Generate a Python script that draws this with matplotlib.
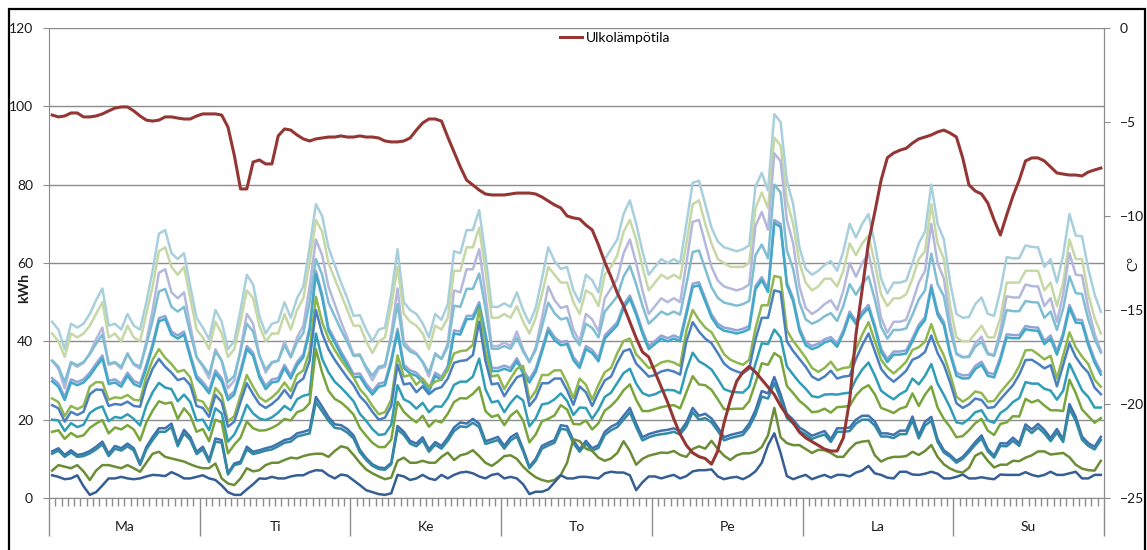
import matplotlib
matplotlib.use("Agg")
import matplotlib.pyplot as plt
from matplotlib.patches import Rectangle
import numpy as np

# week days (finnish) and hourly readings, 24 values per day
days = ["Ma", "Ti", "Ke", "To", "Pe", "La", "Su"]

# kWh series, top to bottom
s1 = [45, 43, 38, 44.5, 43.5, 44.5, 47, 50.5, 53.5, 44, 44.5, 43, 47, 44, 43, 50, 58, 67.5, 68.4, 62.5, 61, 62.5, 54, 46,
      43.5, 40.5, 48, 45, 38, 40, 48, 57, 54.5, 46.5, 42, 44.5, 45, 50, 46, 51, 54, 64, 75, 72, 64, 59.5, 55, 51,
      46.5, 46.7, 43, 40, 43, 43.5, 52, 63.5, 50, 48, 47, 44.6, 41, 47, 45.5, 49.5, 63, 62.5, 68.4, 68.4, 73.5, 62, 48.8, 48.8,
      49.7, 48.8, 52.5, 48, 44.6, 48.5, 56, 64, 60.5, 58.5, 59, 53, 50, 57, 55.6, 52.5, 61, 63.5, 66, 72.5, 76, 70, 63, 57,
      59, 61, 60, 61, 60, 70, 80.5, 81, 75, 69, 65.5, 64, 63.5, 63, 63.5, 64.5, 79.5, 83, 78.5, 98, 96, 81, 75, 64,
      58.5, 57, 58, 59.5, 60.5, 58, 63, 70, 66.5, 70, 72.5, 65, 56, 52.2, 55, 55, 55.5, 60, 65, 68, 80, 70, 66, 55,
      47, 46, 46.2, 49.5, 51.2, 47, 46.5, 53, 61.5, 61.2, 61.2, 64.5, 64.1, 64, 59, 61, 55, 62, 72.5, 67, 66.8, 58.5, 52, 47.5]
s2 = [42, 40, 36, 42, 41, 42, 44, 47, 50, 41, 42, 40, 44, 41, 40, 47, 54, 63, 64, 59, 57, 59, 51, 43,
      41, 38, 45, 42, 36, 38, 45, 53, 51, 44, 40, 42, 42, 47, 43, 48, 51, 60, 71, 68, 60, 56, 52, 48,
      44, 44, 40, 37, 40, 41, 49, 59, 47, 45, 44, 42, 38, 44, 43, 46, 58, 58, 64, 64, 69, 58, 46, 46,
      47, 46, 49, 45, 42, 46, 52, 59, 57, 55, 55, 50, 47, 53, 52, 49, 57, 59, 62, 68, 71, 66, 59, 53,
      55, 57, 56, 57, 56, 65, 75, 76, 70, 65, 61, 60, 59, 59, 59, 60, 74, 78, 74, 92, 90, 76, 70, 60,
      55, 53, 54, 56, 56, 54, 58, 65, 62, 65, 67, 60, 52, 49, 51, 51, 52, 56, 61, 63, 75, 65, 61, 49,
      41, 40, 40, 42, 44, 41, 41, 46, 55, 55, 55, 58, 58, 58, 53, 55, 49, 55, 66, 61, 61, 52, 46, 42]
s3 = [35, 33, 28, 34.5, 33.5, 34.5, 37, 40.5, 43.5, 34, 34.5, 33, 37, 34, 33, 40, 48, 57.5, 58.4, 52.5, 51, 52.5, 44, 36,
      33.5, 30.5, 38, 35, 28, 30, 38, 47, 44.5, 36.5, 32, 34.5, 35, 40, 36, 41, 44, 54, 66, 62, 54, 49.5, 45, 41,
      36.5, 36.7, 33, 30, 33, 33.5, 42, 53.5, 40, 38, 37, 34.6, 31, 37, 35.5, 39.5, 53, 52.5, 58.4, 58.4, 63.5, 52, 38.8, 38.8,
      39.7, 38.8, 42.5, 38, 34.6, 38.5, 46, 54, 50.5, 48.5, 49, 43, 40, 47, 45.6, 42.5, 51, 53.5, 56, 62.5, 66, 60, 53, 47,
      49, 51, 50, 51, 50, 60, 70.5, 71, 65, 59, 55.5, 54, 53.5, 53, 53.5, 54.5, 69.5, 73, 68.5, 88, 86, 71, 65, 54,
      48.5, 47, 48, 49.5, 50.5, 48, 53, 60, 56.5, 60, 62.5, 55, 46, 42.2, 45, 45, 45.5, 50, 55, 58, 70, 60, 56, 45,
      37, 36, 36.2, 39.5, 41.2, 37, 36.5, 43, 51.5, 51.2, 51.2, 54.5, 54.1, 54, 49, 51, 45, 52, 62.5, 57, 56.8, 48.5, 42, 37.5]
s4 = [35.1, 33.5, 29.6, 34.7, 33.9, 34.7, 36.7, 39.4, 41.7, 34.3, 34.7, 33.5, 36.7, 34.3, 33.5, 39, 45.2, 52.7, 53.4, 48.8, 47.6, 48.8, 42.1, 35.9,
      33.9, 31.6, 37.4, 35.1, 29.6, 31.2, 37.4, 44.5, 42.5, 36.3, 32.8, 34.7, 35.1, 39, 35.9, 39.8, 42.1, 49.9, 61, 57, 49.9, 46.4, 42.9, 39.8,
      36.3, 36.4, 33.5, 31.2, 33.5, 33.9, 40.6, 49.5, 39, 37.4, 36.7, 34.8, 32, 36.7, 35.5, 38.6, 49.1, 48.8, 53.4, 53.4, 57.3, 48.4, 38.1, 38.1,
      38.8, 38.1, 41, 37.4, 34.8, 37.8, 43.7, 49.9, 47.2, 45.6, 46, 41.3, 39, 44.5, 43.4, 41, 47.6, 49.5, 51.5, 56.6, 59.3, 54.6, 49.1, 44.5,
      46, 47.6, 46.8, 47.6, 46.8, 54.6, 62.8, 63.2, 58.5, 53.8, 51.1, 49.9, 49.5, 49.1, 49.5, 50.3, 62, 64.7, 61.2, 80, 78, 63.2, 58.5, 49.9,
      45.6, 44.5, 45.2, 46.4, 47.2, 45.2, 49.1, 54.6, 51.9, 54.6, 56.6, 50.7, 43.7, 40.7, 42.9, 42.9, 43.3, 46.8, 50.7, 53, 62.4, 54.6, 51.5, 42.9,
      36.7, 35.9, 36, 38.6, 39.9, 36.7, 36.3, 41.3, 48, 47.7, 47.7, 50.3, 50, 49.9, 46, 47.6, 42.9, 48.4, 56.6, 52.3, 52.1, 45.6, 40.6, 37.1]
s5 = [30.6, 29.2, 25.8, 30.3, 29.6, 30.3, 32, 34.3, 36.4, 29.9, 30.3, 29.2, 32, 29.9, 29.2, 34, 39.4, 45.9, 46.5, 42.5, 41.5, 42.5, 36.7, 31.3,
      29.6, 27.5, 32.6, 30.6, 25.8, 27.2, 32.6, 38.8, 37.1, 31.6, 28.6, 30.3, 30.6, 34, 31.3, 34.7, 36.7, 43.5, 58, 52, 43.5, 40.5, 37.4, 34.7,
      31.6, 31.8, 29.2, 27.2, 29.2, 29.6, 35.4, 43.2, 34, 32.6, 32, 30.3, 27.9, 32, 30.9, 33.7, 42.8, 42.5, 46.5, 46.5, 50, 42.2, 33.2, 33.2,
      33.8, 33.2, 35.7, 32.6, 30.3, 33, 38.1, 43.5, 41.1, 39.8, 40.1, 36, 34, 38.8, 37.8, 35.7, 41.5, 43.2, 44.9, 49.3, 51.7, 47.6, 42.8, 38.8,
      40.1, 41.5, 40.8, 41.5, 40.8, 47.6, 54.7, 55.1, 51, 46.9, 44.5, 43.5, 43.2, 42.8, 43.2, 43.9, 54.1, 56.4, 53.4, 71, 70, 55.1, 51, 43.5,
      39.8, 38.8, 39.4, 40.5, 41.1, 39.4, 42.8, 47.6, 45.2, 47.6, 49.3, 44.2, 38.1, 35.5, 37.4, 37.4, 37.7, 40.8, 44.2, 46.2, 54.4, 47.6, 44.9, 37.4,
      32, 31.3, 31.4, 33.7, 34.8, 32, 31.6, 36, 41.8, 41.6, 41.6, 43.9, 43.6, 43.5, 40.1, 41.5, 37.4, 42.2, 49.3, 45.6, 45.4, 39.8, 35.4, 32.3]
s6 = [29.8, 28.4, 25.0, 29.5, 28.8, 29.5, 31.2, 33.5, 35.6, 29.1, 29.5, 28.4, 31.2, 29.1, 28.4, 33.2, 38.6, 45.1, 45.7, 41.7, 40.7, 41.7, 35.9, 30.5,
      28.8, 26.7, 31.8, 29.8, 25.0, 26.4, 31.8, 38.0, 36.3, 30.8, 27.8, 29.5, 29.8, 33.2, 30.5, 33.9, 35.9, 42.7, 57.2, 51.2, 42.7, 39.7, 36.6, 33.9,
      30.8, 31.0, 28.4, 26.4, 28.4, 28.8, 34.6, 42.4, 33.2, 31.8, 31.2, 29.5, 27.1, 31.2, 30.1, 32.9, 42.0, 41.7, 45.7, 45.7, 49.2, 41.4, 32.4, 32.4,
      33.0, 32.4, 34.9, 31.8, 29.5, 32.2, 37.3, 42.7, 40.3, 39.0, 39.3, 35.2, 33.2, 38.0, 37.0, 34.9, 40.7, 42.4, 44.1, 48.5, 50.9, 46.8, 42.0, 38.0,
      39.3, 40.7, 40.0, 40.7, 40.0, 46.8, 53.9, 54.3, 50.2, 46.1, 43.7, 42.7, 42.4, 42.0, 42.4, 43.1, 53.3, 55.6, 52.6, 70.2, 69.2, 54.3, 50.2, 42.7,
      39.0, 38.0, 38.6, 39.7, 40.3, 38.6, 42.0, 46.8, 44.4, 46.8, 48.5, 43.4, 37.3, 34.7, 36.6, 36.6, 36.9, 40.0, 43.4, 45.4, 53.6, 46.8, 44.1, 36.6,
      31.2, 30.5, 30.6, 32.9, 34.0, 31.2, 30.8, 35.2, 41.0, 40.8, 40.8, 43.1, 42.8, 42.7, 39.3, 40.7, 36.6, 41.4, 48.5, 44.8, 44.6, 39.0, 34.6, 31.5]
s7 = [25.4, 24.5, 20.9, 23.5, 22.7, 23.5, 28.4, 29.6, 29.5, 25.1, 25.7, 25.5, 26.3, 25.1, 24.9, 31.0, 35.3, 38.0, 35.8, 34.2, 32.2, 32.7, 30.8, 25.1,
      24.6, 22.1, 28.1, 26.2, 19.5, 20.9, 26.2, 31.4, 28.4, 25.7, 24.6, 25.7, 27.2, 29.5, 27.3, 31.4, 32.6, 37.5, 51.4, 44.9, 40.7, 37.8, 35.3, 33.0,
      30.8, 27.8, 26.0, 23.5, 21.4, 21.9, 25.1, 36.4, 31.0, 31.4, 28.9, 30.5, 28.4, 29.7, 30.3, 32.6, 36.9, 37.5, 37.7, 39.1, 48.2, 37.5, 31.0, 31.4,
      27.8, 30.5, 33.0, 33.7, 25.1, 27.3, 31.4, 31.4, 32.6, 32.6, 29.4, 25.5, 30.5, 28.9, 25.1, 28.9, 32.1, 33.2, 37.0, 40.1, 40.7, 36.7, 35.0, 33.2,
      33.6, 34.6, 35.0, 34.6, 33.7, 42.8, 48.0, 45.5, 43.5, 42.3, 39.6, 36.7, 35.3, 34.6, 34.0, 35.3, 43.3, 49.2, 49.2, 56.7, 56.3, 42.8, 40.1, 38.0,
      35.8, 33.2, 32.2, 33.2, 34.8, 32.6, 33.2, 33.4, 38.0, 41.7, 44.9, 40.1, 35.3, 33.2, 31.8, 33.2, 34.8, 37.8, 38.5, 39.9, 44.4, 39.6, 36.4, 31.6,
      25.9, 24.6, 25.6, 27.2, 26.8, 24.6, 24.8, 27.0, 28.9, 30.8, 33.7, 37.7, 37.8, 36.7, 35.4, 36.3, 30.5, 36.4, 42.3, 38.5, 36.1, 34.2, 30.2, 28.4]
s8 = [23.7, 22.9, 19.5, 22.0, 21.2, 22.0, 26.5, 27.7, 27.6, 23.5, 24.0, 23.8, 24.6, 23.5, 23.3, 29.0, 33.0, 35.5, 33.5, 32.0, 30.1, 30.6, 28.8, 23.5,
      23.0, 20.7, 26.3, 24.5, 18.2, 19.5, 24.5, 29.3, 26.5, 24.0, 23.0, 24.0, 25.4, 27.6, 25.5, 29.3, 30.5, 35.0, 48.0, 42.0, 38.0, 35.3, 33.0, 30.8,
      28.8, 26.0, 24.3, 22.0, 20.0, 20.5, 23.5, 34.0, 29.0, 29.3, 27.0, 28.5, 26.5, 27.8, 28.3, 30.5, 34.5, 35.0, 35.2, 36.5, 45.0, 35.0, 29.0, 29.3,
      26.0, 28.5, 30.8, 31.5, 23.5, 25.5, 29.3, 29.3, 30.5, 30.5, 27.5, 23.8, 28.5, 27.0, 23.5, 27.0, 30.0, 31.0, 34.6, 37.5, 38.0, 34.3, 32.7, 31.0,
      31.4, 32.3, 32.7, 32.3, 31.5, 40.0, 44.9, 42.5, 40.7, 39.5, 37.0, 34.3, 33.0, 32.3, 31.8, 33.0, 40.5, 46.0, 46.0, 53.0, 52.6, 40.0, 37.5, 35.5,
      33.5, 31.0, 30.1, 31.0, 32.5, 30.5, 31.0, 31.2, 35.5, 39.0, 42.0, 37.5, 33.0, 31.0, 29.7, 31.0, 32.5, 35.3, 36.0, 37.3, 41.5, 37.0, 34.0, 29.5,
      24.2, 23.0, 23.9, 25.4, 25.0, 23.0, 23.2, 25.2, 27.0, 28.8, 31.5, 35.2, 35.3, 34.3, 33.1, 33.9, 28.5, 34.0, 39.5, 36.0, 33.7, 32.0, 28.2, 26.5]
s9 = [20.0, 19.8, 17.1, 19.1, 18.1, 18.7, 21.7, 22.8, 23.4, 19.6, 20.7, 20.4, 21.4, 20.2, 18.5, 23.6, 27.0, 29.4, 28.2, 27.8, 24.7, 26.4, 24.5, 19.8,
      20.0, 17.3, 22.9, 21.6, 14.4, 16.2, 19.4, 23.8, 21.6, 20.3, 19.9, 20.6, 21.8, 23.5, 22.4, 25.2, 26.1, 26.5, 42.0, 35.5, 32.1, 29.7, 28.2, 26.5,
      24.7, 21.5, 19.7, 17.6, 16.1, 16.3, 18.7, 28.8, 25.2, 24.4, 22.8, 24.3, 21.9, 23.4, 23.3, 25.5, 28.9, 29.7, 29.7, 31.0, 35.6, 27.8, 24.4, 24.8,
      21.9, 24.3, 26.1, 24.9, 18.3, 20.3, 23.9, 24.2, 25.2, 26.7, 24.8, 21.2, 23.1, 23.0, 20.2, 22.6, 25.8, 26.9, 29.4, 31.9, 33.0, 29.2, 26.8, 26.1,
      26.5, 27.3, 27.6, 27.5, 26.7, 32.7, 37.1, 34.9, 34.0, 32.8, 30.4, 27.8, 27.2, 27.0, 26.9, 28.4, 34.3, 39.5, 39.3, 43.0, 41.0, 33.6, 31.5, 29.5,
      27.9, 26.0, 25.7, 26.4, 26.5, 26.4, 26.7, 26.9, 30.3, 32.8, 34.6, 31.3, 27.4, 26.2, 25.2, 26.5, 27.4, 30.5, 29.0, 31.2, 34.2, 29.2, 26.3, 23.1,
      19.3, 19.0, 20.2, 21.9, 22.4, 19.8, 19.2, 21.7, 22.8, 24.5, 25.5, 29.6, 29.2, 29.2, 27.9, 27.4, 25.1, 27.4, 34.3, 30.9, 27.5, 25.8, 23.1, 23.1]
s10 = [16.9, 17.3, 15.1, 16.6, 15.6, 16.0, 17.9, 19.0, 19.9, 16.5, 18.0, 17.5, 18.6, 17.5, 14.7, 19.3, 22.3, 24.7, 24.1, 24.4, 20.2, 22.9, 21.0, 16.9,
       17.6, 14.5, 20.0, 19.3, 11.4, 13.6, 15.4, 19.5, 17.8, 17.2, 17.3, 17.9, 18.8, 20.2, 19.8, 21.9, 22.5, 24.2, 38.0, 32.0, 27.4, 25.3, 24.4, 23.0,
       21.3, 17.9, 15.9, 14.1, 13.0, 13.0, 14.9, 24.6, 22.0, 20.5, 19.3, 21.0, 18.2, 19.8, 19.3, 21.5, 24.5, 25.5, 25.4, 26.6, 28.3, 22.2, 20.7, 21.2,
       18.6, 21.0, 22.3, 19.8, 14.2, 16.2, 19.6, 20.2, 21.1, 23.7, 22.6, 18.9, 18.8, 19.8, 17.5, 19.1, 22.3, 23.5, 25.2, 27.5, 29.0, 25.1, 22.2, 22.2,
       22.7, 23.2, 23.5, 23.7, 22.9, 27.0, 31.1, 29.0, 28.8, 27.6, 25.2, 22.7, 22.7, 22.8, 22.8, 24.7, 29.4, 34.4, 34.0, 37.0, 35.9, 28.6, 26.8, 24.8,
       23.5, 21.9, 22.1, 22.8, 21.8, 23.2, 23.3, 23.5, 26.2, 27.9, 28.8, 26.5, 23.0, 22.4, 21.7, 22.8, 23.3, 26.7, 23.5, 26.4, 28.5, 23.1, 20.2, 18.1,
       15.5, 15.8, 17.3, 19.1, 20.2, 17.2, 16.1, 18.9, 19.3, 20.9, 20.8, 25.3, 24.4, 25.0, 23.6, 22.4, 22.4, 22.2, 30.2, 26.8, 22.6, 20.9, 19.2, 20.4]
s11 = [11.9, 12.7, 11.0, 12.2, 11.0, 11.3, 12.0, 13.1, 14.4, 11.3, 13.3, 12.7, 13.9, 12.7, 8.8, 13.0, 15.6, 17.8, 17.8, 19.0, 13.9, 17.4, 15.6, 11.8,
       13.1, 9.7, 15.2, 14.8, 6.3, 8.8, 9.3, 13.1, 11.8, 12.2, 12.7, 13.1, 13.9, 14.8, 15.2, 16.5, 16.9, 17.4, 25.8, 23.3, 20.7, 18.8, 18.6, 17.6,
       16.0, 12.3, 10.2, 8.6, 7.8, 7.6, 9.0, 18.4, 16.9, 14.6, 13.9, 15.5, 12.4, 14.3, 13.3, 15.4, 18.0, 19.3, 19.0, 20.2, 19.0, 14.5, 15.0, 15.6,
       13.3, 15.5, 16.5, 12.5, 8.0, 10.0, 13.3, 14.1, 14.8, 18.6, 18.3, 14.7, 12.4, 14.6, 12.7, 13.5, 16.9, 18.2, 19.0, 21.0, 23.0, 19.0, 15.5, 16.3,
       16.8, 17.2, 17.4, 17.8, 17.0, 19.3, 23.0, 21.0, 21.5, 20.3, 18.0, 15.5, 16.1, 16.5, 16.9, 19.0, 22.4, 27.3, 26.7, 30.9, 26.5, 21.5, 20.0, 18.0,
       17.0, 15.9, 16.5, 17.1, 15.0, 17.8, 17.8, 18.0, 20.0, 21.0, 21.0, 19.5, 16.5, 16.5, 16.1, 17.2, 17.2, 20.8, 16.0, 19.5, 20.7, 15.0, 12.2, 11.0,
       9.5, 10.5, 12.3, 14.3, 16.0, 12.5, 10.8, 14.0, 13.9, 15.4, 14.0, 18.8, 17.5, 18.9, 17.4, 15.3, 17.6, 15.0, 24.0, 20.7, 15.7, 14.0, 13.1, 15.6]
s12 = [11.3, 12.1, 10.5, 11.6, 10.5, 10.7, 11.4, 12.4, 13.7, 10.7, 12.6, 12.1, 13.2, 12.1, 8.4, 12.4, 14.8, 16.9, 16.9, 18.1, 13.2, 16.5, 14.8, 11.2,
       12.4, 9.2, 14.4, 14.1, 6.0, 8.4, 8.8, 12.4, 11.2, 11.6, 12.1, 12.4, 13.2, 14.1, 14.4, 15.7, 16.1, 16.5, 24.5, 22.1, 19.7, 17.9, 17.7, 16.7,
       15.2, 11.7, 9.7, 8.2, 7.4, 7.2, 8.6, 17.5, 16.1, 13.9, 13.2, 14.7, 11.8, 13.6, 12.6, 14.6, 17.1, 18.3, 18.1, 19.2, 18.1, 13.8, 14.3, 14.8,
       12.6, 14.7, 15.7, 11.9, 7.6, 9.5, 12.6, 13.4, 14.1, 17.7, 17.4, 14.0, 11.8, 13.9, 12.1, 12.8, 16.1, 17.3, 18.1, 20.0, 21.9, 18.1, 14.7, 15.5,
       16.0, 16.3, 16.5, 16.9, 16.2, 18.3, 21.9, 20.0, 20.4, 19.3, 17.1, 14.7, 15.3, 15.7, 16.1, 18.1, 21.3, 25.9, 25.4, 29.4, 25.2, 20.4, 19.0, 17.1,
       16.2, 15.1, 15.7, 16.2, 14.3, 16.9, 16.9, 17.1, 19.0, 20.0, 20.0, 18.5, 15.7, 15.7, 15.3, 16.3, 16.3, 19.8, 15.2, 18.5, 19.7, 14.3, 11.6, 10.5,
       9.0, 10.0, 11.7, 13.6, 15.2, 11.9, 10.3, 13.3, 13.2, 14.6, 13.3, 17.9, 16.6, 18.0, 16.5, 14.5, 16.7, 14.3, 22.8, 19.7, 14.9, 13.3, 12.4, 14.8]
s13 = [7.0, 8.4, 8.0, 7.6, 8.4, 6.8, 4.6, 7.0, 8.4, 8.4, 8.0, 7.6, 8.4, 7.6, 6.7, 9.0, 11.3, 11.8, 10.5, 10.1, 9.7, 9.3, 8.6, 8.0,
       7.6, 7.6, 8.8, 5.0, 3.7, 3.3, 5.0, 7.6, 6.8, 7.1, 8.4, 9.0, 9.0, 9.7, 10.3, 10.1, 10.7, 11.1, 11.3, 11.3, 10.5, 12.0, 13.2, 12.8,
       11.0, 9.0, 7.3, 6.3, 5.5, 4.8, 5.2, 9.5, 10.3, 9.0, 9.0, 9.5, 9.0, 9.0, 10.5, 11.6, 9.7, 10.9, 11.3, 12.2, 10.7, 9.0, 8.2, 9.3,
       10.7, 10.9, 10.0, 8.0, 6.5, 5.3, 4.6, 4.2, 4.6, 5.9, 9.0, 15.0, 14.5, 12.6, 12.0, 10.3, 9.5, 10.1, 11.5, 14.5, 12.0, 8.5, 10.0, 10.8,
       11.2, 11.6, 11.5, 12.0, 11.0, 10.5, 12.5, 13.2, 12.6, 14.6, 12.5, 10.8, 9.7, 10.9, 11.4, 11.4, 11.8, 13.0, 16.0, 23.0, 15.5, 14.0, 13.5, 13.5,
       12.5, 11.5, 12.3, 12.2, 11.5, 10.5, 10.5, 12.5, 14.0, 14.4, 14.6, 10.9, 9.3, 10.1, 10.5, 10.5, 10.7, 11.8, 11.0, 12.0, 13.5, 10.5, 8.6, 7.5,
       6.8, 6.5, 7.7, 10.8, 11.6, 9.5, 7.8, 8.5, 8.5, 9.5, 9.4, 10.3, 10.9, 11.9, 11.9, 11.1, 11.3, 11.5, 10.4, 8.5, 7.5, 7.1, 7.0, 9.5]
s14 = [5.8, 5.4, 4.8, 5.0, 5.8, 3.0, 0.8, 1.5, 3.2, 5.0, 5.0, 5.4, 5.0, 4.8, 5.0, 5.5, 5.9, 5.8, 5.6, 6.6, 5.9, 5.0, 5.0, 5.4,
       5.8, 5.0, 4.6, 3.2, 1.5, 0.8, 0.8, 2.2, 3.5, 5.0, 4.9, 5.4, 5.0, 5.0, 5.5, 5.8, 5.8, 6.6, 7.1, 7.0, 5.8, 5.0, 6.0, 5.7,
       4.5, 3.3, 2.0, 1.5, 1.0, 0.8, 1.2, 5.9, 5.5, 4.6, 5.0, 5.9, 5.0, 4.6, 5.9, 5.0, 5.9, 6.5, 6.7, 6.3, 5.5, 5.0, 5.9, 6.2,
       5.0, 5.4, 5.0, 3.5, 1.0, 1.6, 1.6, 2.2, 4.0, 5.8, 5.0, 5.0, 5.4, 5.4, 5.2, 5.0, 6.3, 6.7, 6.5, 6.5, 5.8, 2.0, 4.0, 5.5,
       5.5, 5.0, 5.5, 5.9, 5.0, 5.6, 6.8, 7.1, 7.1, 7.3, 5.5, 4.8, 5.2, 5.4, 4.8, 5.6, 6.8, 9.0, 13.5, 16.5, 11.5, 5.6, 4.8, 5.4,
       5.9, 4.8, 5.4, 5.9, 5.2, 5.9, 5.9, 5.5, 6.5, 7.0, 8.2, 6.3, 5.9, 5.2, 5.0, 6.7, 6.7, 6.0, 5.9, 6.2, 6.7, 6.2, 5.0, 5.0,
       5.4, 6.0, 5.0, 5.0, 5.3, 5.0, 4.8, 6.0, 5.9, 5.9, 5.9, 6.6, 5.9, 5.5, 5.9, 6.7, 5.9, 5.9, 6.3, 6.7, 5.0, 5.0, 5.9, 5.9]

# outdoor temperature, right axis (C)
temp = [-4.63, -4.73, -4.68, -4.52, -4.52, -4.73, -4.73, -4.68, -4.57, -4.41, -4.26, -4.2, -4.2, -4.41, -4.68, -4.9, -4.95, -4.9, -4.73, -4.73, -4.79, -4.84, -4.84, -4.68,
        -4.57, -4.57, -4.57, -4.63, -5.27, -6.76, -8.56, -8.56, -7.13, -7.02, -7.23, -7.23, -5.74, -5.37, -5.43, -5.69, -5.9, -6.01, -5.9, -5.85, -5.8, -5.8, -5.74, -5.8,
        -5.8, -5.74, -5.8, -5.8, -5.85, -6.01, -6.06, -6.06, -6.01, -5.85, -5.43, -5.05, -4.84, -4.84, -4.95, -5.8, -6.6, -7.39, -8.09, -8.35, -8.62, -8.83, -8.88, -8.88,
        -8.88, -8.83, -8.78, -8.78, -8.78, -8.83, -8.99, -9.2, -9.41, -9.57, -10.0, -10.1, -10.16, -10.48, -10.74, -11.54, -12.45, -13.24, -14.1, -14.79, -15.64, -16.49, -17.23, -17.5,
        -18.3, -19.1, -19.9, -20.8, -21.6, -22.2, -22.6, -22.8, -22.9, -23.2, -22.5, -21.0, -19.8, -18.8, -18.3, -18.0, -18.3, -18.7, -19.1, -19.5, -20.1, -20.6, -21.0, -21.5,
        -21.8, -22.0, -22.2, -22.4, -22.5, -22.5, -21.8, -19.8, -16.3, -13.9, -11.4, -9.8, -8.1, -6.9, -6.65, -6.5, -6.4, -6.12, -5.9, -5.8, -5.69, -5.53, -5.43, -5.59,
        -5.8, -6.91, -8.35, -8.67, -8.83, -9.31, -10.21, -11.01, -9.95, -8.94, -8.09, -7.07, -6.91, -6.91, -7.07, -7.39, -7.71, -7.77, -7.82, -7.82, -7.87, -7.66, -7.55, -7.45]

series = [s1, s2, s3, s4, s5, s6, s7, s8, s9, s10, s11, s12, s13, s14]
colors = ["#a8cfdc", "#c5d8a5", "#b3b8dc", "#7fbdd3", "#93a5d5", "#40a9c7", "#8fb74d",
          "#4a7fc0", "#2f9db6", "#79a53c", "#3f72af", "#3389a3", "#6b8d35", "#355f94"]

plt.rcParams['font.family'] = ['Lato', 'DejaVu Sans']
GRAY = "#8c8c8c"

fig = plt.figure(figsize=(11.47, 5.5), dpi=100)
ax = fig.add_axes([49/1147, 52/550, 1055/1147, 470/550])

hours = np.arange(len(s1))
for vals, col in zip(series, colors):
    ax.plot(hours, vals, color=col, lw=1.8, solid_joinstyle='round')

ax.set_xlim(-0.5, len(s1) - 0.5)
ax.set_ylim(0, 120)
ax.set_yticks(range(0, 121, 20))
ax.yaxis.grid(True, color=GRAY, lw=1)
ax.set_axisbelow(True)
ax.spines['top'].set_visible(False)
for sp in ['left', 'bottom', 'right']:
    ax.spines[sp].set_color(GRAY)
ax.tick_params(axis='y', length=4.5, color=GRAY, labelsize=10, pad=7, labelcolor='#1a1a1a')

# hour ticks and day separators
ax.set_xticks(np.arange(-0.5, len(s1), 24))
ax.set_xticks(np.arange(-0.5, len(s1), 1), minor=True)
ax.set_xticklabels([])
ax.tick_params(axis='x', which='major', length=27, color=GRAY, width=1)
ax.tick_params(axis='x', which='minor', length=5.5, color=GRAY, width=1)
for k, d in enumerate(days):
    ax.text(24 * k + 11.5, -29/470, d, transform=ax.get_xaxis_transform(),
            ha='center', va='center', fontsize=10, color='#1a1a1a')

# temperature on the secondary axis
ax2 = ax.twinx()
tline, = ax2.plot(hours, temp, color="#943634", lw=2.2, solid_joinstyle='round')
ax2.set_ylim(-25, 0)
ax2.set_yticks(range(-25, 1, 5))
ax2.spines['top'].set_visible(False)
ax2.spines['right'].set_color(GRAY)
ax2.spines['left'].set_visible(False)
ax2.spines['bottom'].set_visible(False)
ax2.tick_params(axis='y', length=4.5, color=GRAY, labelsize=10, pad=7, labelcolor='#1a1a1a')

fig.text(24/1147, 1 - 288/550, "kWh", rotation=90, ha='center', va='center',
         fontsize=10, fontweight='bold', color='#1a1a1a')
fig.text(1133/1147, 1 - 263/550, "C°", rotation=90, ha='center', va='center',
         fontsize=10, color='#1a1a1a')

fig.legend(handles=[tline], labels=["Ulkolämpötila"], loc='center',
           bbox_to_anchor=(615/1147, 1 - 38/550), frameon=False, fontsize=10,
           handlelength=1.6, handletextpad=0.3)

# chart frame
fig.add_artist(Rectangle((9/1147, -0.05), 1136/1147, 1.05 - 9/550, transform=fig.transFigure,
                         fill=False, edgecolor='black', lw=1.6, clip_on=False))

fig.savefig("out.png", dpi=100)
